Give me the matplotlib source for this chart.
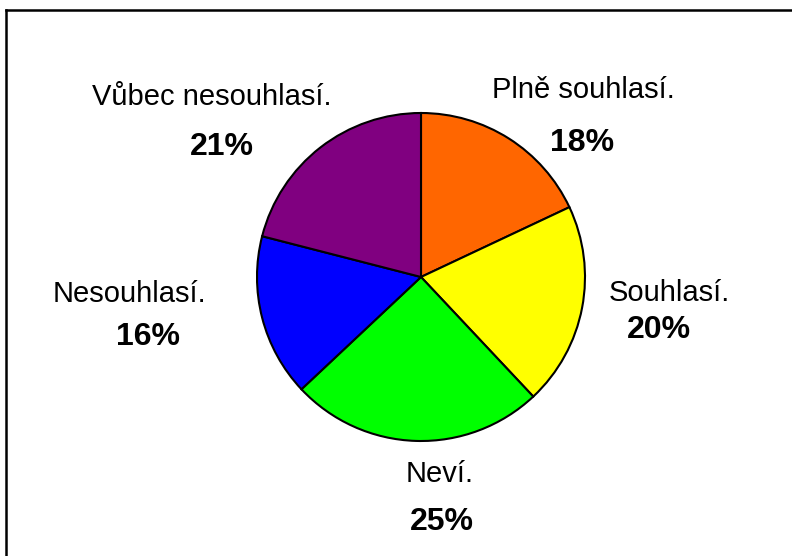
import matplotlib
matplotlib.use("Agg")
import matplotlib.pyplot as plt
from matplotlib.lines import Line2D

plt.rcParams['font.family'] = ['Liberation Sans', 'DejaVu Sans']

# data
labels = ['Plně souhlasí.', 'Souhlasí.', 'Neví.', 'Nesouhlasí.', 'Vůbec nesouhlasí.']
shares = [18, 20, 25, 16, 21]
colors = ['#FF6600', '#FFFF00', '#00FF00', '#0000FF', '#800080']

# where each label block sits (pie radius units, name / percent baselines)
name_pos = [(0.988, 1.091), (1.512, -0.146), (0.116, -1.250), (-1.780, -0.152), (-1.274, 1.049)]
pct_pos = [(0.982, 0.768), (1.451, -0.372), (0.128, -1.543), (-1.665, -0.415), (-1.213, 0.744)]

W, H = 792, 556
cx, cy, r = 421, 279, 164   # pie centre from bottom-left, radius, in pixels

fig = plt.figure(figsize=(W / 100, H / 100), dpi=100)
ax = fig.add_axes([0, 0, 1, 1])
ax.pie(shares, colors=colors, startangle=90, counterclock=False,
       wedgeprops=dict(edgecolor='black', linewidth=1.5))
ax.set_xlim(-cx / r, (W - cx) / r)
ax.set_ylim(-cy / r, (H - cy) / r)
ax.set_aspect('equal')
ax.axis('off')

for lab, val, p1, p2 in zip(labels, shares, name_pos, pct_pos):
    ax.text(p1[0], p1[1], lab, ha='center', va='baseline', fontsize=21, color='black')
    ax.text(p2[0], p2[1], f'{val}%', ha='center', va='baseline', fontsize=23,
            fontweight='bold', color='black')

# chart-area frame (only top and left edges visible in the crop)
fig.add_artist(Line2D([6 / W, 6 / W], [0, 1 - 10 / H], transform=fig.transFigure,
                      color='black', linewidth=1.8))
fig.add_artist(Line2D([6 / W, 1], [1 - 10 / H, 1 - 10 / H], transform=fig.transFigure,
                      color='black', linewidth=1.8))

fig.savefig('out.png', dpi=100)
